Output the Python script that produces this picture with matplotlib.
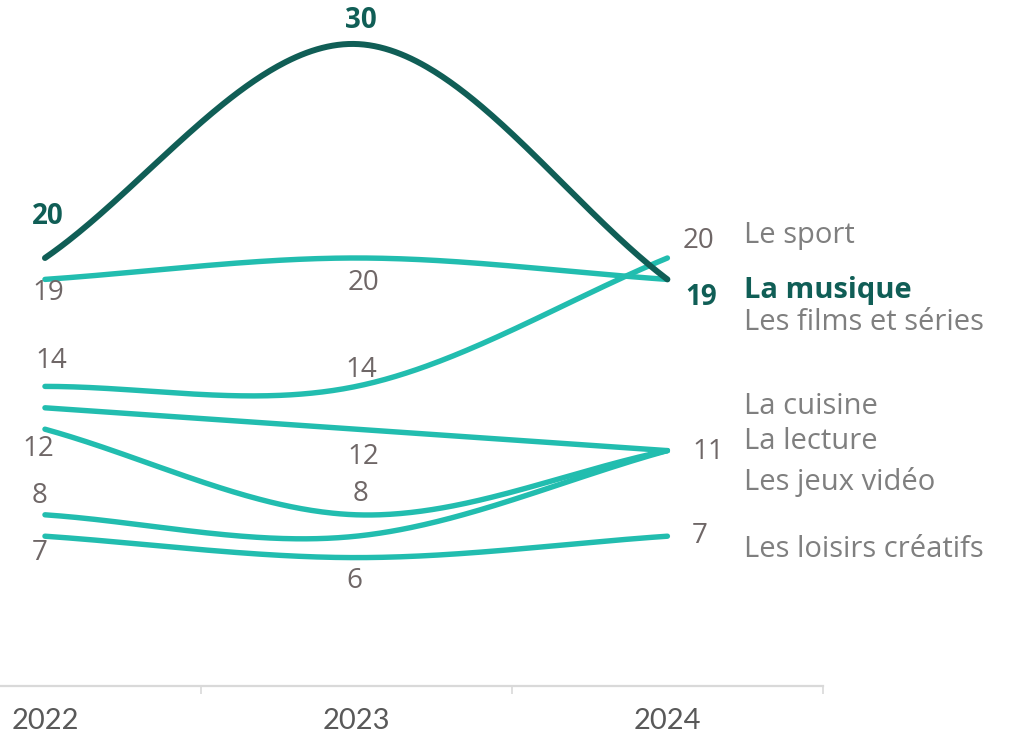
import numpy as np
import matplotlib
matplotlib.use('Agg')
import matplotlib.pyplot as plt
from matplotlib.ticker import FixedLocator

# ---------------- data ----------------
years = ['2022', '2023', '2024']
musique = [20, 30, 19]
sport = [14, 14, 20]
films = [19, 20, 19]
cuisine = [13, 12, 11]
lecture = [12, 8, 11]
jeux = [8, 7, 11]
loisirs = [7, 6, 7]

series_names = ['Le sport', 'La musique', 'Les films et séries', 'La cuisine',
                'La lecture', 'Les jeux vidéo', 'Les loisirs créatifs']
series_values = [sport, musique, films, cuisine, lecture, jeux, loisirs]

# ---------------- style / layout ----------------
DARK = '#105e56'
TEAL = '#22bdaf'
NUM_GRAY = '#6f6767'
NAME_GRAY = '#7f7f7f'
YEAR_GRAY = '#595959'
FONT = ['Open Sans', 'DejaVu Sans']

plt.rcParams['font.family'] = FONT

# visible value labels: (series index, point index, dx px, dy px (down +), ha)
value_labels = [
    (1, 0, 3, -41, 'center'), (2, 0, 3, 14, 'center'), (0, 0, 6, -25, 'center'),
    (4, 0, -7, 20, 'center'), (5, 0, -5, -19, 'center'), (6, 0, -5, 17, 'center'),
    (1, 1, 5, -24, 'center'), (2, 1, 7, 25, 'center'), (0, 1, 5, -16, 'center'),
    (3, 1, 7, 28, 'center'), (4, 1, 4, -21, 'center'), (6, 1, -2, 23, 'center'),
    (0, 2, 15, -17, 'left'), (1, 2, 18, 18, 'left'), (4, 2, 25, 1, 'left'),
    (6, 2, 24, 0, 'left'),
]
# series name label vertical positions (in data units) at right
name_y = [21.05, 18.5, 17.0, 13.08, 11.44, 9.53, 6.4]
name_x = 2.247


def smooth(vals, n=120):
    y = np.asarray(vals, float)
    k = len(y)
    m = np.zeros(k)
    m[0] = y[1] - y[0]
    m[-1] = y[-1] - y[-2]
    for i in range(1, k - 1):
        m[i] = (y[i + 1] - y[i - 1]) / 2
    xs, ys = [], []
    for i in range(k - 1):
        t = np.linspace(0, 1, n)
        h00 = 2 * t**3 - 3 * t**2 + 1
        h10 = t**3 - 2 * t**2 + t
        h01 = -2 * t**3 + 3 * t**2
        h11 = t**3 - t**2
        xs.append(i + t)
        ys.append(h00 * y[i] + h10 * m[i] + h01 * y[i + 1] + h11 * m[i + 1])
    return np.concatenate(xs), np.concatenate(ys)


W, H = 1030, 738
fig = plt.figure(figsize=(W / 100, H / 100), dpi=100)
ax = fig.add_axes([0, (H - 686) / H, 823 / W, 686 / H])
ax.set_xlim(-45 / 311.5, 2.5)
ax.set_ylim(0, 686 / 21.4)

x_idx = np.arange(len(years))

# draw teal lines first, dark on top
order = [6, 5, 4, 3, 0, 2, 1]
for si in order:
    vals = series_values[si]
    xs, ys = smooth(vals)
    is_dark = (si == 1)
    ax.plot(xs, ys, color=DARK if is_dark else TEAL,
            lw=4.3 if is_dark else 3.9, solid_capstyle='round',
            zorder=3 if is_dark else 2)

for si, pi, dx, dy, ha in value_labels:
    is_dark = (si == 1)
    ax.annotate(str(series_values[si][pi]), (x_idx[pi], series_values[si][pi]),
                xytext=(dx * 0.72, -dy * 0.72), textcoords='offset points',
                ha=ha, va='center', fontsize=20,
                color=DARK if is_dark else NUM_GRAY,
                fontweight='bold' if is_dark else 'normal')

for name, yv in zip(series_names, name_y):
    is_dark = (name == 'La musique')
    ax.text(name_x, yv, name, ha='left', va='center', fontsize=21,
            color=DARK if is_dark else NAME_GRAY,
            fontweight='bold' if is_dark else 'normal', clip_on=False)

# axes styling
for s in ['top', 'right', 'left']:
    ax.spines[s].set_visible(False)
ax.spines['bottom'].set_color('#d9d9d9')
ax.spines['bottom'].set_linewidth(1.6)
ax.set_yticks([])
ax.set_xticks(x_idx)
ax.set_xticklabels(years, fontsize=21, color=YEAR_GRAY, family=['Lato', 'DejaVu Sans'])
ax.tick_params(axis='x', which='major', length=0, pad=16)
ax.xaxis.set_minor_locator(FixedLocator([0.5, 1.5, 2.5]))
ax.tick_params(axis='x', which='minor', length=5.5, width=1.2, color='#d9d9d9')

fig.savefig('out.png', dpi=100)
